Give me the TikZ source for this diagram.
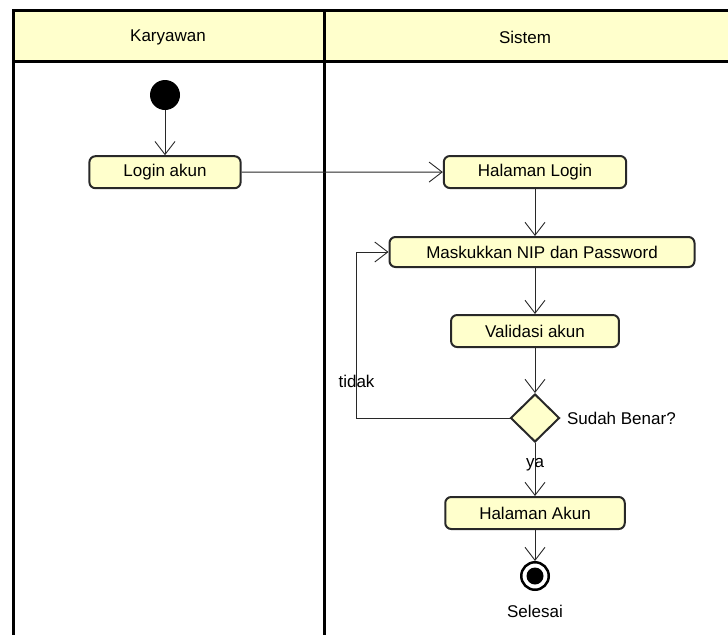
\documentclass[tikz,border=0pt]{standalone}
\usepackage{fontspec}
\setmainfont{Liberation Sans}
\usetikzlibrary{arrows.meta, shapes.geometric, positioning}
\definecolor{umlkuning}{RGB}{255,255,204}
\definecolor{umlgaris}{RGB}{40,40,40}

\begin{document}
\begin{tikzpicture}[x=1pt, y=-1pt, font=\fontsize{17}{20}\selectfont,
    aksi/.style={draw=umlgaris, line width=2pt, fill=umlkuning, rounded corners=6pt,
      minimum height=32pt, inner xsep=34pt},
    panah/.style={draw=umlgaris, line width=0.9pt, -{Straight Barb[length=13pt,width=20pt]}},
    lajur/.style={line width=3pt}]
  \useasboundingbox (0,0) rectangle (728,635);
  % swimlane
  \fill[umlkuning] (13,10) rectangle (728,61);
  \draw[lajur] (728,10) -- (13,10) -- (13,635) (13,61) -- (728,61) (324,10) -- (324,635);
  \node (karyawan) at (168,37) {Karyawan};
  \node (sistem) at (525,37) {Sistem};

  \node[circle, fill=black, minimum size=30pt, inner sep=0] (mulai) at (165,95) {};
  \node[aksi, below=45pt of mulai] (login) {Login akun};
  \node[aksi] (halLogin) at (535,172) {Halaman Login};
  \node[aksi, minimum width=305pt, minimum height=30pt, below=47pt of halLogin, xshift=7pt] (nip) {Maskukkan NIP dan Password};
  \node[aksi, below=46pt of nip, xshift=-7pt] (valid) {Validasi akun};
  \node[diamond, draw=umlgaris, line width=2pt, fill=umlkuning, minimum width=49pt, minimum height=48pt,
    inner sep=0, below=45pt of valid, label={[label distance=3pt]right:Sudah Benar?}] (cek) {};
  \node[aksi, below=53pt of cek] (akun) {Halaman Akun};
  \node[circle, draw=black, line width=2.5pt, minimum size=27.5pt, inner sep=0, below=31pt of akun,
    label={[label distance=11pt]below:Selesai}] (selesai) {};
  \fill (selesai) circle (8.5pt);

  \draw[panah] (mulai) -- (login);
  \draw[panah] (login) -- (halLogin);
  \draw[panah] (halLogin) -- (halLogin |- nip.north);
  \draw[panah] (nip.south -| valid) -- (valid);
  \draw[panah] (valid) -- (cek);
  \draw[panah] (cek) -- node[pos=0.4] {ya} (akun);
  \draw[panah] (akun) -- (selesai);
  \draw[panah] (cek.west) -| node[pos=0.61] {tidak} ([xshift=-32pt]nip.west) -- (nip.west);
\end{tikzpicture}
\end{document}
